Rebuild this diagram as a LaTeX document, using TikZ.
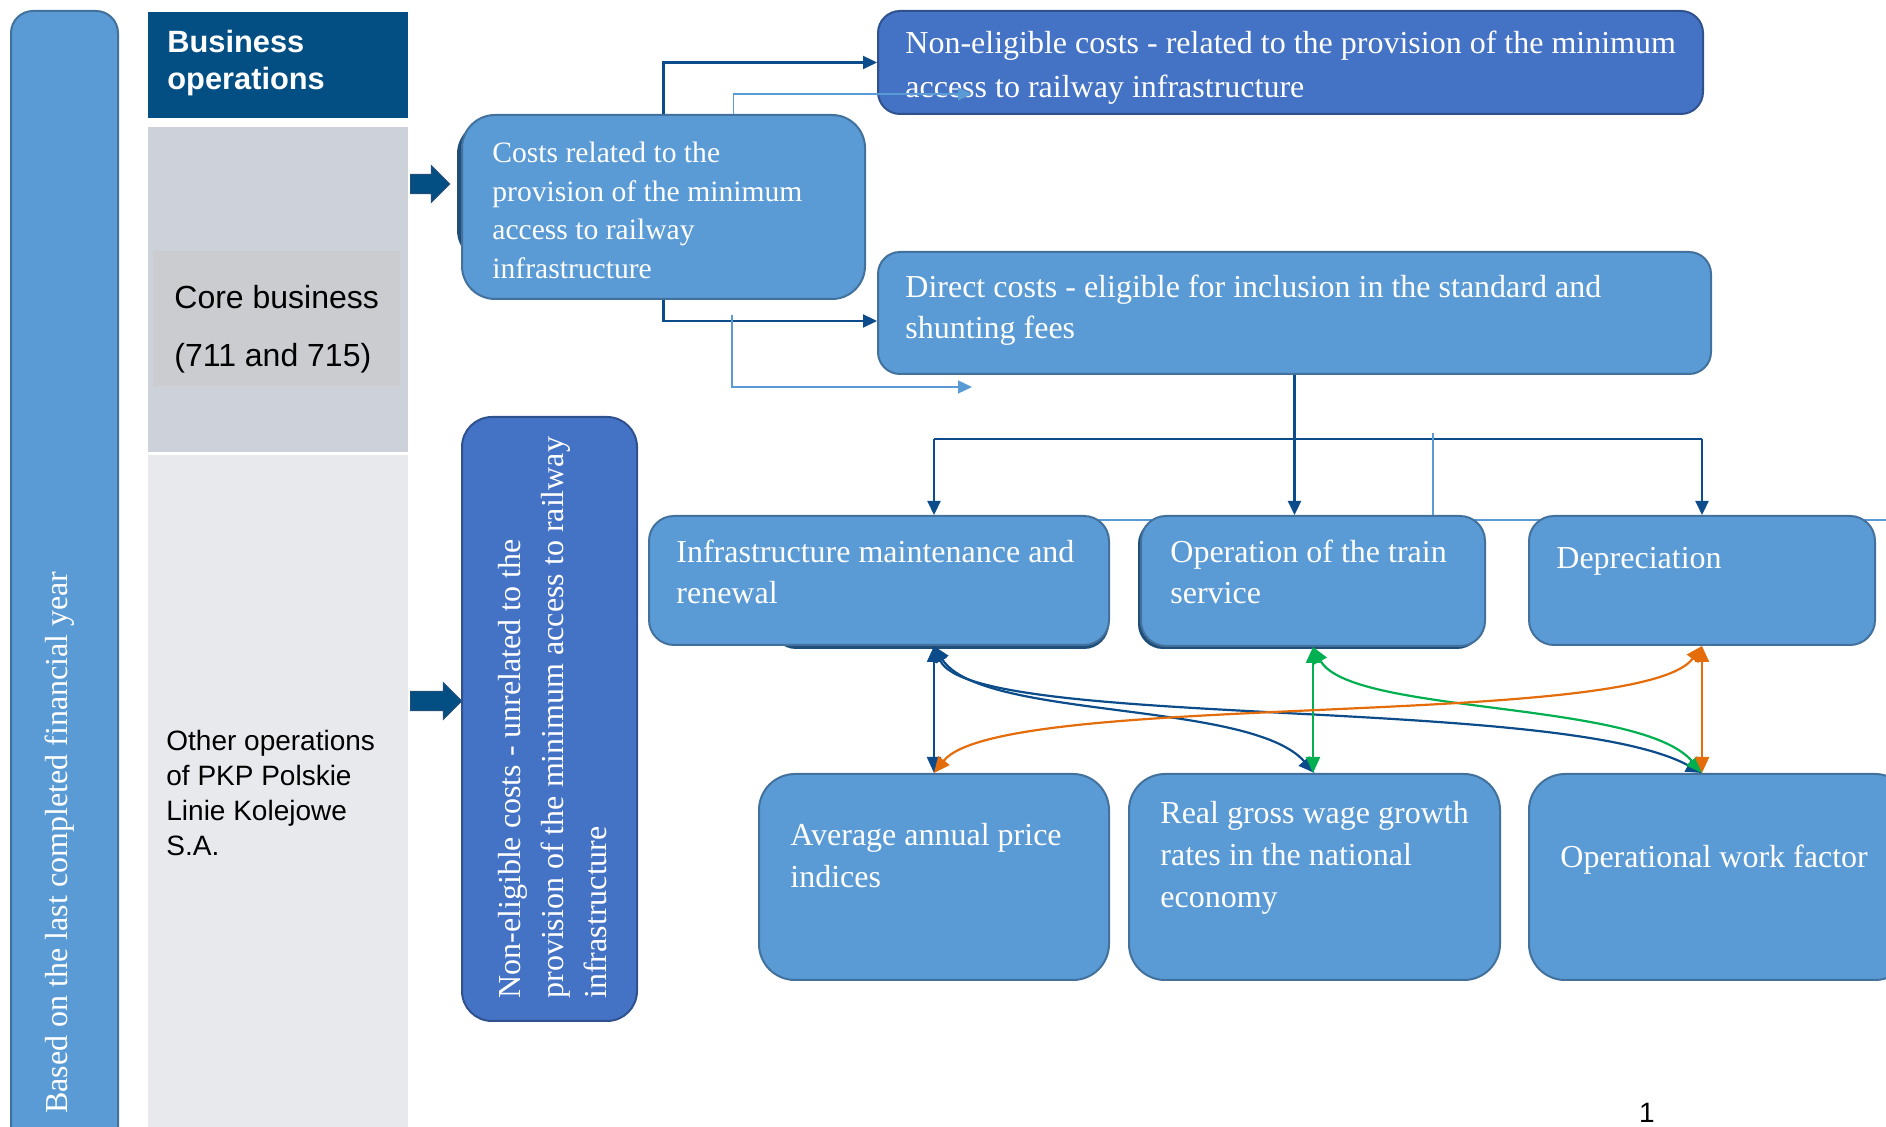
\documentclass[tikz,border=0pt]{standalone}
\usepackage{fontspec}
\setmainfont{Liberation Serif}
\setsansfont{Liberation Sans}
\usetikzlibrary{arrows.meta,shapes.arrows}
\definecolor{boxblue}{HTML}{5B9BD5}
\definecolor{boxline}{HTML}{41719C}
\definecolor{deepblue}{HTML}{4472C4}
\definecolor{deepline}{HTML}{2F528F}
\definecolor{headblue}{HTML}{034F84}
\definecolor{shadeblue}{HTML}{1F4E79}
\definecolor{linkblue}{HTML}{0C4C8A}
\definecolor{coregray}{HTML}{CCD1DA}
\definecolor{coreinner}{HTML}{CBCCD0}
\definecolor{othergray}{HTML}{E8E9ED}
\definecolor{greenlink}{HTML}{00B050}
\definecolor{orangelink}{HTML}{E46C0A}
\tikzset{
    box/.style={draw=boxline, fill=boxblue, line width=1pt, anchor=north west, inner sep=0pt},
    deepbox/.style={box, draw=deepline, fill=deepblue},
    band/.style={anchor=north west, inner sep=0pt, minimum width=130pt},
    txt/.style={anchor=north west, inner sep=0pt, align=left, text=white, font=\fontsize{16}{20.5}\selectfont},
    sanstxt/.style={anchor=north west, inner sep=0pt, align=left, text=black},
    conn/.style={draw=linkblue, line width=1.1pt},
    faint/.style={draw=boxblue, line width=0.7pt},
    tip/.style={arrows={-Triangle[length=7pt,width=6.5pt]}},
    both/.style={arrows={Triangle[length=8pt,width=7pt]-Triangle[length=8pt,width=7pt]}, line width=1.1pt},
    fat/.style={single arrow, fill=headblue, draw=shadeblue, line width=0.6pt, inner xsep=0pt, inner ysep=4.5pt,
        minimum width=17.5pt, single arrow head extend=4.25pt, anchor=west}
}
\begin{document}
\begin{tikzpicture}[x=0.5pt,y=-0.5pt]
    \useasboundingbox (0,0) rectangle (1886,1127);
    \clip (0,0) rectangle (1886,1127);
    % left side
    \node[box, rounded corners=11pt, minimum width=53.5pt, minimum height=570pt] (year) at (10,10) {};
    \node[txt, anchor=base west, rotate=90] (yeartxt) at (67,1114) {Based on the last completed financial year};
    \node[band, fill=headblue, minimum height=53pt] (head) at (148,12) {};
    \node[band, fill=coregray, minimum height=162.5pt] (core) at (148,127) {};
    \node[band, fill=othergray, minimum height=345pt] (other) at (148,455) {};
    \node[anchor=north west, inner sep=0pt, fill=coreinner, minimum width=123.5pt, minimum height=67.5pt] (coretag) at (153,251) {};
    \node[sanstxt, text=white, font=\sffamily\bfseries\fontsize{15.4}{18.5}\selectfont] (headtxt) at (167,30) {Business\\operations};
    \node[sanstxt, font=\sffamily\fontsize{16}{29}\selectfont] (coretxt) at (174,285) {Core business\\(711 and 715)};
    \node[sanstxt, font=\sffamily\fontsize{14}{17.5}\selectfont] (othertxt) at (166,730) {Other operations\\of PKP Polskie\\Linie Kolejowe\\S.A.};
    \node[fat, minimum height=19.5pt] (arrA) at (410,184) {};
    \node[fat, minimum height=25.5pt] (arrB) at (410,701) {};
    % faint rail behind the boxes
    \coordinate (railA) at (1090,520);
    \coordinate (railB) at (1900,520);
    \draw[faint] (railA) -- (railB);
    % boxes
    \node[box, draw=none, fill=shadeblue, rounded corners=16.5pt, minimum width=122pt, minimum height=71pt] (costshade) at (456,120) {};
    \node[box, rounded corners=16.5pt, minimum width=201.5pt, minimum height=92pt] (cost) at (461,114) {};
    \node[deepbox, rounded corners=11pt, minimum width=412.5pt, minimum height=51.5pt] (nonelig) at (877,10) {};
    \node[box, rounded corners=11pt, minimum width=416.5pt, minimum height=61pt] (direct) at (877,251) {};
    \node[deepbox, rounded corners=15pt, minimum width=87.5pt, minimum height=302pt] (unrel) at (461,416) {};
    \node[box, draw=none, fill=shadeblue, rounded corners=12.5pt, minimum width=169pt, minimum height=64pt] (infrashade) at (770,520) {};
    \node[box, draw=none, fill=shadeblue, rounded corners=12.5pt, minimum width=172pt, minimum height=65pt] (opershade) at (1137,518) {};
    \node[box, rounded corners=12.5pt, minimum width=230pt, minimum height=64.5pt] (infra) at (648,515) {};
    \node[box, rounded corners=12.5pt, minimum width=172pt, minimum height=65pt] (oper) at (1140,515) {};
    \node[box, rounded corners=12.5pt, minimum width=173pt, minimum height=64.5pt] (depr) at (1528,515) {};
    \node[box, rounded corners=18pt, minimum width=175pt, minimum height=103pt] (avg) at (758,773) {};
    \node[box, rounded corners=18pt, minimum width=185.5pt, minimum height=103pt] (real) at (1128,773) {};
    \node[box, rounded corners=18pt, minimum width=191pt, minimum height=103pt] (owf) at (1528,773) {};
    % box texts
    \node[txt, font=\fontsize{14.8}{19.2}\selectfont] (costtxt) at (492,142) {Costs related to the\\provision of the minimum\\access to railway\\infrastructure};
    \node[txt, font=\fontsize{16}{22}\selectfont] (noneligtxt) at (905,31) {Non-eligible costs - related to the provision of the minimum\\access to railway infrastructure};
    \node[txt] (directtxt) at (905,275) {Direct costs - eligible for inclusion in the standard and\\shunting fees};
    \node[txt, rotate=90, font=\fontsize{16}{21.5}\selectfont] (unreltxt) at (498,999) {Non-eligible costs - unrelated to the\\provision of the minimum access to railway\\infrastructure};
    \node[txt] (infratxt) at (676,540) {Infrastructure maintenance and\\renewal};
    \node[txt] (opertxt) at (1170,540) {Operation of the train\\service};
    \node[txt] (deprtxt) at (1556,547) {Depreciation};
    \node[txt, font=\fontsize{16}{21}\selectfont] (avgtxt) at (790,823) {Average annual price\\indices};
    \node[txt, font=\fontsize{16}{21}\selectfont] (realtxt) at (1160,801) {Real gross wage growth\\rates in the national\\economy};
    \node[txt] (owftxt) at (1560,845) {Operational work factor};
    % connectors
    \coordinate (faintA) at (972,94);
    \coordinate (faintB0) at (732,315);
    \coordinate (faintB) at (972,387);
    \coordinate (bus) at (1293,439);
    \coordinate (tick) at (1433,433);
    \draw[conn, tip] (cost.north) |- (nonelig.west);
    \draw[conn, tip] (cost.south) |- ([yshift=-4pt]direct.west);
    \draw[faint, tip] ([xshift=35pt]cost.north) |- (faintA);
    \draw[faint, tip] (faintB0) |- (faintB);
    \draw[conn, tip] (direct.south) -- (direct.south |- oper.north);
    \draw[conn] (bus -| avg.north) -- (bus -| depr.north);
    \draw[conn, tip] (bus -| avg.north) -- (infra.north -| avg.north);
    \draw[conn, tip] (bus -| depr.north) -- (depr.north);
    \draw[faint] (tick) -- (tick |- oper.north);
    \draw[both, draw=linkblue] (infra.south -| avg.north) -- (avg.north);
    \draw[both, draw=linkblue] (infra.south -| avg.north) .. controls (980,720) and (1250,700) .. (real.north);
    \draw[both, draw=linkblue] (infra.south -| avg.north) .. controls (970,730) and (1560,695) .. (depr.south |- owf.north);
    \draw[both, draw=greenlink] (oper.south) -- (oper.south |- real.north);
    \draw[both, draw=greenlink] (oper.south) .. controls (1350,715) and (1640,700) .. (depr.south |- owf.north);
    \draw[both, draw=orangelink] (depr.south) .. controls (1640,730) and (1000,690) .. (avg.north);
    \draw[both, draw=orangelink] (depr.south) -- (depr.south |- owf.north);
    \node[anchor=north, inner sep=0pt, font=\sffamily\fontsize{14}{16}\selectfont] (pageno) at (1647,1103) {1};
\end{tikzpicture}
\end{document}
